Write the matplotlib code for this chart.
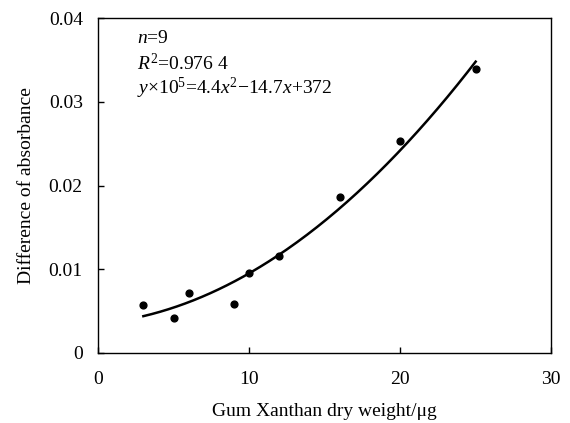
import numpy as np
import matplotlib
matplotlib.use("Agg")
import matplotlib.pyplot as plt

# -------------------
# Data
# -------------------
dry_weight = [3, 5, 6, 9, 10, 12, 16, 20, 25]
absorbance_diff = [0.0057, 0.0042, 0.0072, 0.0059, 0.0096, 0.0116, 0.0186, 0.0253, 0.0339]

x_ticks = [0, 10, 20, 30]
y_ticks = [0, 0.01, 0.02, 0.03, 0.04]
y_tick_labels = ["0", "0.01", "0.02", "0.03", "0.04"]

# -------------------
# Style
# -------------------
plt.rcParams["font.family"] = ["Liberation Serif", "DejaVu Serif"]
plt.rcParams["mathtext.fontset"] = "custom"
plt.rcParams["mathtext.rm"] = "Liberation Serif"
plt.rcParams["mathtext.it"] = "Liberation Serif:italic"
plt.rcParams["font.size"] = 14

fig = plt.figure(figsize=(5.7, 4.23), dpi=100)
ax = fig.add_axes([0.172, 0.1655, 0.795, 0.7915])

# points + quadratic trend line
ax.scatter(dry_weight, absorbance_diff, s=24, color="black", zorder=3)
coef = np.polyfit(dry_weight, absorbance_diff, 2)
xs = np.linspace(min(dry_weight), max(dry_weight), 200)
ax.plot(xs, np.polyval(coef, xs), color="black", lw=1.8)

ax.set_xlim(0, 30)
ax.set_ylim(0, 0.04)
ax.set_xticks(x_ticks)
ax.set_yticks(y_ticks)
ax.set_yticklabels(y_tick_labels)
ax.tick_params(direction="in", length=4, width=1, colors="black")
ax.tick_params(axis="y", pad=11)
ax.tick_params(axis="x", pad=13)
for sp in ax.spines.values():
    sp.set_linewidth(1)

ax.set_xlabel("Gum Xanthan dry weight/μg", labelpad=11)
ax.set_ylabel("Difference of absorbance", labelpad=10)

# annotation
ax.text(0.086, 0.94, r"$n$=9", transform=ax.transAxes, va="center")
ax.text(0.086, 0.865, r"$R^2$=0.976 4", transform=ax.transAxes, va="center")
ax.text(0.086, 0.79, r"$y$×10$^5$=4.4$x^2$−14.7$x$+372", transform=ax.transAxes, va="center")

plt.savefig("out.png", dpi=100)
